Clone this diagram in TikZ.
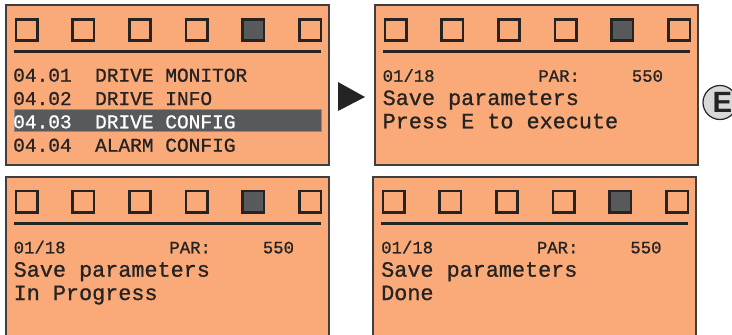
\documentclass[tikz,border=0pt]{standalone}
\usepackage{fontspec}
\setmonofont[FakeBold=0.9]{Liberation Mono}
\setsansfont{Liberation Sans}
\definecolor{lcd}{HTML}{F9AA78}
\definecolor{ink}{HTML}{262324}
\definecolor{frame}{HTML}{3F3D3E}
\definecolor{bar}{HTML}{58595B}
\definecolor{barline}{HTML}{8C8C8C}
\definecolor{keyfill}{HTML}{D8D8D8}

\tikzset{
  lcdpanel/.style={draw=frame, line width=1.2pt, fill=lcd, anchor=north west,
    minimum width=323pt, inner sep=0pt, outer sep=0pt},
  led/.style={draw=ink, line width=2.6pt, fill=lcd, minimum size=21.4pt,
    inner sep=0pt, anchor=north west},
  ledon/.style={led, fill=bar},
  rule/.style={draw=ink, line width=2.6pt},
  menu/.style={anchor=base west, inner sep=0pt, text=ink,
    font=\ttfamily\fontsize{19.5}{19.5}\selectfont},
  small/.style={anchor=base west, inner sep=0pt, text=ink,
    font=\ttfamily\fontsize{17.3}{17.3}\selectfont},
  big/.style={anchor=base west, inner sep=0pt, text=ink,
    font=\ttfamily\fontsize{21.8}{21.8}\selectfont},
  selbar/.style={draw=barline, line width=0.8pt, fill=bar, anchor=north west,
    minimum width=307pt, minimum height=22pt, inner sep=0pt},
  key/.style={circle, draw=ink, line width=1.2pt, fill=keyfill,
    minimum size=34pt, inner sep=0pt},
}

% One display: frame of the given height, six indicator squares (the fifth lit)
% and the rule below them
\newcommand{\lcdframe}[5]{%
  \begin{scope}[shift={(#2,#3)}]
    \node[lcdpanel, minimum height=#5] (#1) at (0,0) {};
    \foreach \k in {0,...,5} {
      \ifnum\k=4
        \node[ledon] (#1-led\k) at ({8.6+56.7*\k},#4) {};
      \else
        \node[led] (#1-led\k) at ({8.6+56.7*\k},#4) {};
      \fi
    }
    \coordinate (#1-rl) at (8,{33.7+#4});
    \coordinate (#1-rr) at (315,{33.7+#4});
    \draw[rule] (#1-rl) -- (#1-rr);
  \end{scope}}

\begin{document}
\begin{tikzpicture}[x=1pt, y=-1pt]
  \useasboundingbox (0,0) rectangle (732,335);
  \clip (0,0) rectangle (732,335);

  % menu screen
  \lcdframe{menuscr}{6}{5}{13}{160pt}
  \node[selbar] (sel) at (14,109) {};
  \node[menu] (m1) at (13,81.7)  {04.01\ \ DRIVE MONITOR};
  \node[menu] (m2) at (13,105)   {04.02\ \ DRIVE INFO};
  \node[menu, text=white] (m3) at (13,128.3) {04.03\ \ DRIVE CONFIG};
  \node[menu] (m4) at (13,151.7) {04.04\ \ ALARM CONFIG};

  % step indicator
  \fill[ink] (338,82) -- (365,97) -- (338,111) -- cycle;

  % confirmation screen
  \lcdframe{askscr}{375}{5}{13}{160pt}
  \node[small] (a1) at (382.5,81.7) {01/18\ \ \ \ \ \ \ \ \ \ PAR:\ \ \ \ \ 550};
  \node[big]   (a2) at (382.5,105)  {Save parameters};
  \node[big]   (a3) at (382.5,128.3) {Press E to execute};

  % enter key
  \node[key] (ekey) at (720,102.5) {};
  \node[inner sep=0pt, text=ink, font=\sffamily\bfseries\fontsize{29.3}{29.3}\selectfont]
    (elabel) at (722.5,102.5) {E};

  % saving screen
  \lcdframe{busyscr}{6}{177}{12.5}{175pt}
  \node[small] (b1) at (13.5,253.3) {01/18\ \ \ \ \ \ \ \ \ \ PAR:\ \ \ \ \ 550};
  \node[big]   (b2) at (13.5,276.7) {Save parameters};
  \node[big]   (b3) at (13.5,300)   {In Progress};

  % finished screen
  \lcdframe{donescr}{373}{177}{12.5}{175pt}
  \node[small] (d1) at (381,253.3) {01/18\ \ \ \ \ \ \ \ \ \ PAR:\ \ \ \ \ 550};
  \node[big]   (d2) at (381,276.7) {Save parameters};
  \node[big]   (d3) at (381,300)   {Done};
\end{tikzpicture}
\end{document}
